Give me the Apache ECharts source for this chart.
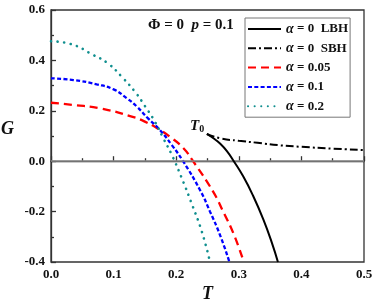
<!DOCTYPE html>
<html><head><meta charset="utf-8">
<script src="https://cdn.jsdelivr.net/npm/echarts@6/dist/echarts.min.js"></script>
<style>html,body{margin:0;padding:0;background:#fff}#c{width:374px;height:307px}</style>
</head><body><div id="c"></div>
<script>
const xTicks = [0, 0.1, 0.2, 0.3, 0.4, 0.5];
const yTicks = [-0.4, -0.2, 0.0, 0.2, 0.4, 0.6];

const lbhT = [0.249, 0.260, 0.270, 0.281, 0.292, 0.307, 0.323, 0.339, 0.353, 0.3625];
const lbhG = [0.108, 0.090, 0.070, 0.040, 0.0, -0.060, -0.138, -0.230, -0.325, -0.4];

const sbhT = [0.249, 0.27, 0.30, 0.33, 0.366, 0.40, 0.45, 0.5];
const sbhG = [0.108, 0.091, 0.081, 0.073, 0.063, 0.057, 0.05, 0.044];

const a005T = [0, 0.036, 0.078, 0.129, 0.15, 0.174, 0.19, 0.211, 0.227, 0.259, 0.276, 0.292, 0.308];
const a005G = [0.232, 0.223, 0.21, 0.177, 0.157, 0.124, 0.097, 0.053, 0.0, -0.121, -0.205, -0.29, -0.4];

const a01T = [0, 0.036, 0.073, 0.1, 0.121, 0.137, 0.155, 0.174, 0.193, 0.211, 0.238, 0.254, 0.270, 0.285];
const a01G = [0.329, 0.322, 0.305, 0.285, 0.25, 0.217, 0.17, 0.124, 0.064, 0.0, -0.114, -0.2, -0.293, -0.4];

const a02T = [0, 0.03, 0.068, 0.092, 0.113, 0.134, 0.150, 0.166, 0.179, 0.193, 0.209, 0.225, 0.241, 0.254];
const a02G = [0.476, 0.466, 0.421, 0.386, 0.335, 0.276, 0.219, 0.157, 0.093, 0.025, -0.068, -0.17, -0.28, -0.4];

const names = ['LBH', 'SBH', 'a005', 'a01', 'a02'];
const legendText = {
  LBH: '{i|α}{b| = 0  LBH}',
  SBH: '{i|α}{b| = 0  SBH}',
  a005: '{i|α}{b| = 0.05}',
  a01: '{i|α}{b| = 0.1}',
  a02: '{i|α}{b| = 0.2}'
};
const pairs = (t, g) => t.map((v, i) => [v, g[i]]);
const serif = '"Liberation Serif","Times New Roman",serif';
const axisCommon = {
  axisLine: {show: true, lineStyle: {color: '#333', width: 1.3}},
  axisTick: {show: true, inside: true, length: 5, lineStyle: {color: '#333', width: 1.3}},
  minorTick: {show: true, splitNumber: 2, length: 3, lineStyle: {color: '#333', width: 1.3}},
  splitLine: {show: false},
  axisLabel: {color: '#111', fontFamily: serif, fontWeight: 'bold', fontSize: 13, margin: 6,
    formatter: v => v.toFixed(1)}
};

const chart = echarts.init(document.getElementById('c'), null, {renderer: 'canvas'});
chart.setOption({
  animation: false,
  backgroundColor: '#fff',
  grid: {left: 51, right: 10, top: 10, bottom: 45, outerBoundsMode: 'none', containLabel: false,
    show: true, borderColor: '#333', borderWidth: 1.3, backgroundColor: 'transparent'},
  xAxis: Object.assign({type: 'value', min: 0, max: 0.5, interval: 0.1}, axisCommon),
  yAxis: Object.assign({type: 'value', min: -0.4, max: 0.6, interval: 0.2}, axisCommon),
  legend: {
    orient: 'vertical', left: 245, top: 18,
    data: names,
    backgroundColor: '#fff',
    borderColor: '#777', borderWidth: 1, borderRadius: 0,
    padding: [4, 2, 4, 2],
    itemWidth: 33, itemHeight: 14, itemGap: 5.3,
    itemStyle: {opacity: 0},
    formatter: n => legendText[n],
    textStyle: {
      fontFamily: serif, fontSize: 13, color: '#111',
      rich: {
        i: {fontFamily: serif, fontSize: 14, fontStyle: 'italic', fontWeight: 'bold', color: '#111'},
        b: {fontFamily: serif, fontSize: 13, fontWeight: 'bold', color: '#111'}
      }
    }
  },
  series: [
    {name: 'LBH', type: 'line', data: pairs(lbhT, lbhG), smooth: 0.5, symbol: 'none',
      lineStyle: {color: '#000', width: 2, type: 'solid'}, itemStyle: {color: '#000'}, z: 5,
      markLine: {silent: true, symbol: 'none', label: {show: false}, animation: false,
        lineStyle: {color: '#8a8a8a', width: 1.5, type: 'solid'}, data: [{yAxis: 0}]}},
    {name: 'SBH', type: 'line', data: pairs(sbhT, sbhG), smooth: 0.5, symbol: 'none',
      lineStyle: {color: '#000', width: 2, type: [8, 3, 2, 3]}, itemStyle: {color: '#000'}, z: 5},
    {name: 'a005', type: 'line', data: pairs(a005T, a005G), smooth: 0.5, symbol: 'none',
      lineStyle: {color: '#ff0000', width: 2.3, type: [8, 5]}, itemStyle: {color: '#ff0000'}, z: 4},
    {name: 'a01', type: 'line', data: pairs(a01T, a01G), smooth: 0.5, symbol: 'none',
      lineStyle: {color: '#0000ff', width: 2.3, type: [4, 2.3]}, itemStyle: {color: '#0000ff'}, z: 4},
    {name: 'a02', type: 'line', data: pairs(a02T, a02G), smooth: 0.5, symbol: 'none',
      lineStyle: {color: '#108f8f', width: 2.6, type: [0.1, 6.5], cap: 'round'}, itemStyle: {color: '#108f8f'}, z: 4}
  ],
  graphic: [
    {type: 'text', left: 148, top: 18, z: 10, style: {
      text: '{b|Φ = 0  }{i|p}{b| = 0.1}', fontFamily: serif,
      rich: {
        b: {fontFamily: serif, fontSize: 15, fontWeight: 'bold', fill: '#111'},
        i: {fontFamily: serif, fontSize: 15, fontStyle: 'italic', fontWeight: 'bold', fill: '#111'}
      }}},
    {type: 'text', left: 190, top: 119, z: 10, style: {
      text: '{t|T}{s|0}', fontFamily: serif,
      rich: {
        t: {fontFamily: serif, fontSize: 15, fontStyle: 'italic', fontWeight: 'bold', fill: '#111'},
        s: {fontFamily: serif, fontSize: 10, fontWeight: 'bold', fill: '#111', verticalAlign: 'bottom', padding: [6, 0, 0, 0]}
      }}},
    {type: 'text', left: 1, top: 120, z: 10, style: {
      text: 'G', fontFamily: serif, fontSize: 18, fontStyle: 'italic', fontWeight: 'bold', fill: '#111'}},
    {type: 'text', left: 202, top: 285, z: 10, style: {
      text: 'T', fontFamily: serif, fontSize: 18, fontStyle: 'italic', fontWeight: 'bold', fill: '#111'}}
  ]
});
</script></body></html>
